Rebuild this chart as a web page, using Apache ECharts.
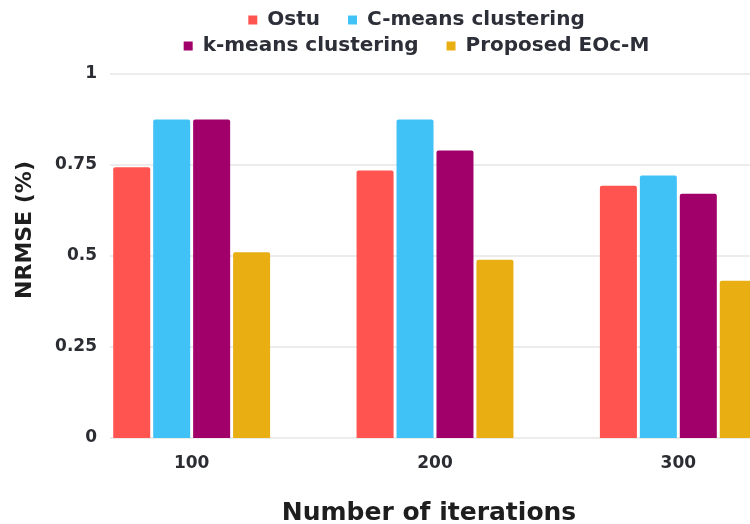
<!DOCTYPE html>
<html>
<head>
<meta charset="utf-8">
<script src="https://cdn.jsdelivr.net/npm/echarts@6/dist/echarts.min.js"></script>
<style>
  html, body { margin: 0; padding: 0; background: #ffffff; overflow: hidden; }
  #chart { width: 833px; height: 524px; }
</style>
</head>
<body>
<div id="chart"></div>
<script>
// Iteration counts on the x axis
const categories = ['100', '200', '300'];

// NRMSE per method
const seriesNames = ['Ostu', 'C-means clustering', 'k-means clustering', 'Proposed EOc-M'];
const ostu = [0.744, 0.735, 0.693];
const cMeans = [0.875, 0.875, 0.721];
const kMeans = [0.875, 0.79, 0.671];
const proposed = [0.51, 0.49, 0.432];

// Y axis ticks
const yTicks = [0, 0.25, 0.5, 0.75, 1];

const colors = ['#FF544F', '#40C2F7', '#A1006B', '#E8AE12'];
const values = [ostu, cMeans, kMeans, proposed];

const labelFont = 'DejaVu Sans';
const chart = echarts.init(document.getElementById('chart'));

const legendText = {
  fontFamily: labelFont, fontWeight: 'bold', fontSize: 20, color: '#2d2f38',
  padding: [0, 0, 0, 5]
};

chart.setOption({
  backgroundColor: '#ffffff',
  animation: false,
  legend: [
    {
      data: seriesNames.slice(0, 2),
      top: 5, left: 'center',
      icon: 'rect', itemWidth: 9, itemHeight: 9, itemGap: 28,
      textStyle: legendText
    },
    {
      data: seriesNames.slice(2, 4),
      top: 31, left: 'center',
      icon: 'rect', itemWidth: 9, itemHeight: 9, itemGap: 28,
      textStyle: legendText
    }
  ],
  grid: [
    // value grid: gridlines and y labels
    { left: 110, right: 30, top: 74, bottom: 86, outerBoundsMode: 'none', containLabel: false },
    // category grid: bars and x labels
    { left: 70, width: 730, top: 74, bottom: 86, outerBoundsMode: 'none', containLabel: false }
  ],
  xAxis: [
    { gridIndex: 0, type: 'category', data: categories, show: false },
    {
      gridIndex: 1, type: 'category', data: categories,
      axisLine: { show: false }, axisTick: { show: false },
      axisLabel: { margin: 17, fontFamily: labelFont, fontWeight: 'bold', fontSize: 17, color: '#2b2d33' },
      name: 'Number of iterations', nameLocation: 'middle', nameGap: 63,
      nameTextStyle: {
        fontFamily: labelFont, fontWeight: 'bold', fontSize: 25, color: '#1e1e1e',
        padding: [0, 12, 0, 0]
      }
    }
  ],
  yAxis: [
    {
      gridIndex: 0, type: 'value', min: yTicks[0], max: yTicks[yTicks.length - 1], interval: 0.25,
      axisLine: { show: false }, axisTick: { show: false },
      splitLine: { lineStyle: { color: '#e6e6e6', width: 1.5 } },
      axisLabel: {
        margin: 13, fontFamily: labelFont, fontWeight: 'bold', fontSize: 17, color: '#2b2d33',
        formatter: v => String(v)
      },
      name: 'NRMSE (%)', nameLocation: 'middle', nameGap: 74,
      nameTextStyle: { fontFamily: labelFont, fontWeight: 'bold', fontSize: 22, color: '#1e1e1e', padding: [0, 0, 0, 52] }
    },
    {
      gridIndex: 1, type: 'value', min: yTicks[0], max: yTicks[yTicks.length - 1], show: false
    }
  ],
  series: seriesNames.map((name, i) => ({
    name,
    type: 'bar',
    xAxisIndex: 1,
    yAxisIndex: 1,
    data: values[i],
    barWidth: 37,
    barGap: '8%',
    itemStyle: { color: colors[i], borderRadius: [2, 2, 0, 0] }
  }))
});
</script>
</body>
</html>
